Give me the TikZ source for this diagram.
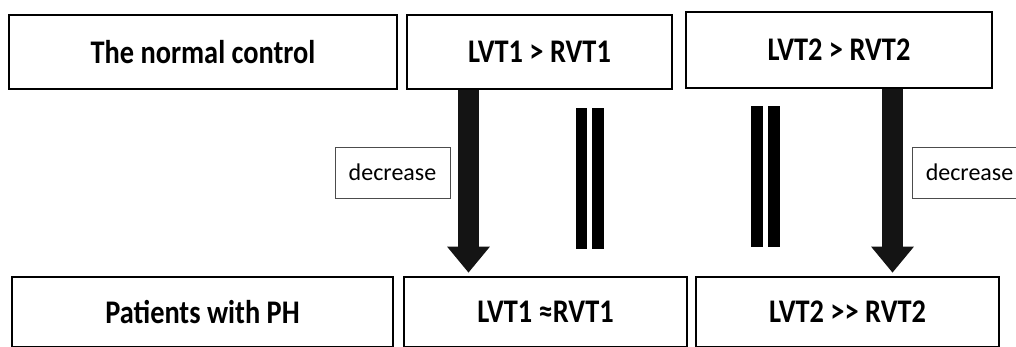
\documentclass[tikz,border=0pt]{standalone}
\usepackage{fontspec}
\usepackage{graphicx}
\setmainfont{Carlito}
\usetikzlibrary{arrows.meta}
% slightly condensed bold heading text
\newcommand\narrowtxt[1]{\scalebox{0.86}[1]{#1}}
\begin{document}
\begin{tikzpicture}[x=1pt,y=-1pt,
  box/.style={draw=black, line width=2.6pt, fill=white, inner sep=0pt,
    font=\bfseries\fontsize{33}{36}\selectfont},
  tag/.style={draw=black!70, line width=0.9pt, fill=white, inner sep=0pt,
    minimum width=115pt, minimum height=51pt,
    font=\fontsize{24}{28}\selectfont},
  bigarrow/.style={draw=black!92, line width=21pt,
    -{Triangle[width=41pt,length=26pt]}, shorten >=3pt},
  eqbar/.style={fill=black}
]
\useasboundingbox (0,0) rectangle (1016,346);
\clip (0,0) rectangle (1016,346);

% top row: normal control
\node[box, minimum width=388pt, minimum height=74pt] (ctl) at (203,52)
  {\narrowtxt{The normal control}};
\node[box, minimum width=265pt, minimum height=74pt] (ctlA) at (539.5,52)
  {\narrowtxt{LVT1 > RVT1}};
\node[box, minimum width=306pt, minimum height=76pt] (ctlB) at (839,50)
  {\narrowtxt{LVT2 > RVT2}};

% bottom row: patients
\node[box, minimum width=381pt, minimum height=70pt] (ph) at (202.5,312)
  {\narrowtxt{Patients with PH}};
\node[box, minimum width=283pt, minimum height=70pt] (phA) at (545.5,312)
  {\narrowtxt{LVT1 \char"2248RVT1}};
\node[box, minimum width=303pt, minimum height=70pt] (phB) at (847.5,312)
  {\narrowtxt{LVT2 >{}> RVT2}};

% arrow positions
\coordinate (colA) at (468.5,0);
\coordinate (colB) at (892.5,0);

\draw[bigarrow] (ctlA.south -| colA) -- (phA.north -| colA);
\draw[bigarrow] (ctlB.south -| colB) -- (phB.north -| colB);

% labels beside the arrows
\node[tag] (decA) at (392.5,172.5) {decrease};
\node[tag] (decB) at (969.5,172.5) {decrease};

% equality bars
\fill[eqbar] (576,108) rectangle (587,249);
\fill[eqbar] (592,108) rectangle (604,249);
\fill[eqbar] (751,106) rectangle (763,247);
\fill[eqbar] (768,106) rectangle (780,247);
\end{tikzpicture}
\end{document}
